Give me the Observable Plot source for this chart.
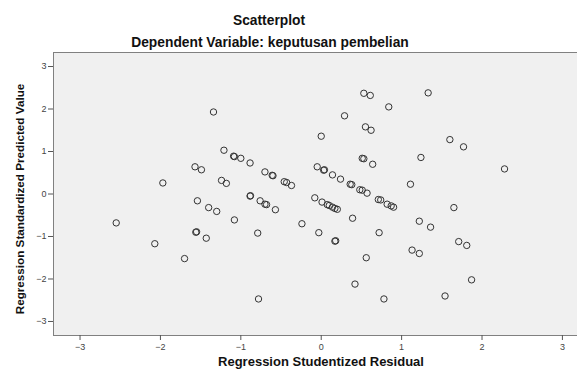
<!DOCTYPE html>
<html>
<head>
<meta charset="utf-8">
<script src="https://cdn.jsdelivr.net/npm/d3@7"></script>
<script src="https://cdn.jsdelivr.net/npm/@observablehq/plot@0.6"></script>
<style>
  html, body { margin: 0; padding: 0; background: #fff; }
  svg { display: block; }
</style>
</head>
<body>
<div id="chart"></div>
<script>
const title = "Scatterplot";
const subtitle = "Dependent Variable: keputusan pembelian";
const xLabel = "Regression Studentized Residual";
const yLabel = "Regression Standardized Predicted Value";
const xTicks = [-3, -2, -1, 0, 1, 2, 3];
const yTicks = [-3, -2, -1, 0, 1, 2, 3];

// Regression Studentized Residual
const residual = [
  -2.55, -2.07, -1.97, -1.70, -1.57, -1.49, -1.56, -1.55, -1.54, -1.43,
  -1.40, -1.34, -1.30, -1.24, -1.21, -1.18, -1.09, -1.08, -1.08, -1.00,
  -0.885, -0.885, -0.88, -0.79, -0.78, -0.76, -0.70, -0.70, -0.68, -0.61,
  -0.60, -0.57, -0.46, -0.43, -0.37, -0.24, -0.08, -0.05, -0.03, 0.00,
  0.01, 0.03, 0.04, 0.075, 0.10, 0.14, 0.14, 0.17, 0.17, 0.18,
  0.20, 0.24, 0.29, 0.36, 0.38, 0.39, 0.42, 0.48, 0.51, 0.51,
  0.53, 0.53, 0.55, 0.56, 0.57, 0.61, 0.62, 0.64, 0.71, 0.74,
  0.72, 0.78, 0.82, 0.84, 0.87, 0.90, 1.11, 1.13, 1.22, 1.22,
  1.24, 1.33, 1.36, 1.54, 1.60, 1.65, 1.71, 1.77, 1.81, 1.87,
  2.28
];
// Regression Standardized Predicted Value
const predicted = [
  -0.68, -1.17, 0.26, -1.52, 0.64, 0.57, -0.90, -0.89, -0.16, -1.04,
  -0.32, 1.93, -0.41, 0.32, 1.03, 0.25, 0.89, 0.88, -0.61, 0.84,
  0.73, -0.05, -0.04, -0.92, -2.47, -0.16, 0.52, -0.24, -0.25, 0.44,
  0.43, -0.37, 0.29, 0.27, 0.20, -0.70, -0.09, 0.64, -0.91, 1.36,
  -0.19, 0.56, 0.57, -0.25, -0.27, -0.31, 0.45, -0.34, -1.11, -1.10,
  -0.36, 0.35, 1.84, 0.23, 0.22, -0.57, -2.12, 0.10, 0.09, 0.84,
  0.83, 2.37, 1.58, -1.50, 0.02, 2.32, 1.50, 0.70, -0.13, -0.14,
  -0.91, -2.47, -0.24, 2.05, -0.28, -0.31, 0.23, -1.32, -1.40, -0.64,
  0.86, 2.38, -0.78, -2.40, 1.28, -0.32, -1.12, 1.11, -1.21, -2.02,
  0.59
];

const points = residual.map((r, i) => ({x: r, y: predicted[i]}));

const font = "'Liberation Sans', Arial, sans-serif";

const chart = Plot.plot({
  width: 577,
  height: 370,
  marginLeft: 53,
  marginTop: 52,
  marginBottom: 35,
  marginRight: -1,
  style: {fontFamily: font, background: "#ffffff", color: "#222"},
  x: {domain: [-3.33, 3.2], ticks: xTicks, label: null},
  y: {domain: [-3.33, 3.33], ticks: yTicks, label: null},
  marks: [
    Plot.frame({fill: "#f0f0f0", stroke: "#808080", strokeWidth: 1}),
    Plot.axisX(xTicks, {tickSize: 5, tickPadding: 3, fontSize: 9, color: "#444", stroke: "#555", label: null}),
    Plot.axisY(yTicks, {tickSize: 5, tickPadding: 2, fontSize: 9, color: "#444", stroke: "#555", label: null}),
    Plot.dot(points, {x: "x", y: "y", r: 3.2, stroke: "#333", strokeWidth: 1, fill: "none"}),
    Plot.text([title], {frameAnchor: "top", lineAnchor: "middle", textAnchor: "middle", dx: -47, dy: -32, fontSize: 13.8, fontWeight: "bold", fill: "#111"}),
    Plot.text([subtitle], {frameAnchor: "top", lineAnchor: "middle", textAnchor: "middle", dx: -46, dy: -10, fontSize: 13.8, fontWeight: "bold", fill: "#111"}),
    Plot.text([xLabel], {frameAnchor: "bottom", lineAnchor: "middle", textAnchor: "middle", dx: 5, dy: 26, fontSize: 13, fontWeight: "bold", fill: "#111"}),
    Plot.text([yLabel], {frameAnchor: "left", lineAnchor: "middle", textAnchor: "middle", dx: -33, dy: 5, rotate: -90, fontSize: 11.7, fontWeight: "bold", fill: "#111"})
  ]
});
document.getElementById("chart").appendChild(chart);
</script>
</body>
</html>
